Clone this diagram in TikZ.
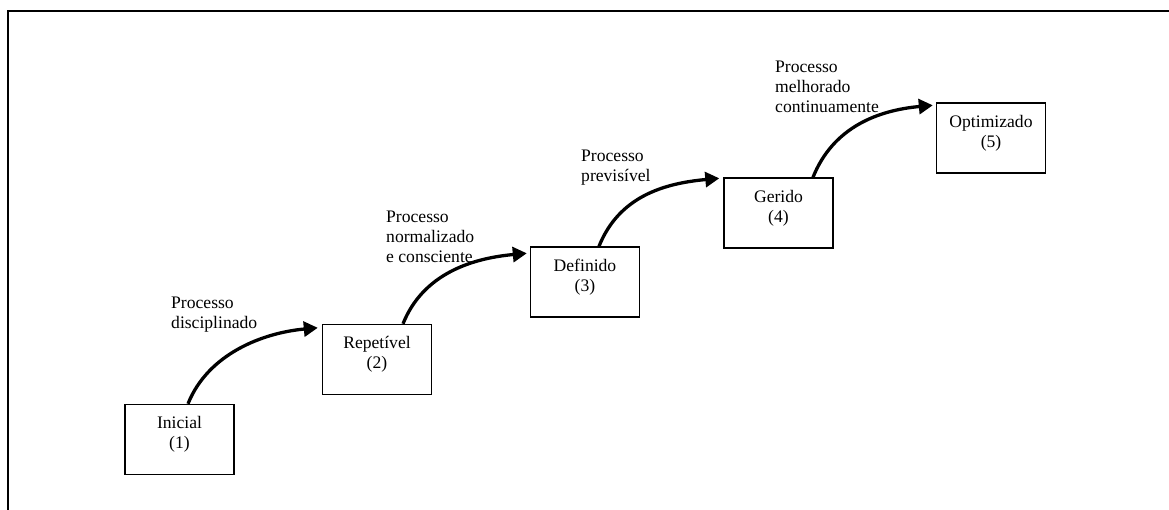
\documentclass[tikz,border=0pt]{standalone}
\usepackage{fontspec}
\setmainfont{Liberation Serif}
\usetikzlibrary{arrows.meta}
\begin{document}
\begin{tikzpicture}[x=1pt,y=-1pt,
  stage/.style={draw, line width=1.4pt, minimum width=109pt, minimum height=70pt, inner sep=0pt},
  stagetext/.style={align=center, inner sep=0pt, font=\fontsize{17.6}{20.3}\selectfont},
  steplabel/.style={align=left, anchor=north west, inner sep=0pt, font=\fontsize{17.6}{20}\selectfont},
  advance/.style={line width=3.3pt, -{Triangle[length=14pt,width=15pt]}},
]
\useasboundingbox (0,0) rectangle (1169,510);

% frame lines
\draw[line width=2pt] (1169,11) -- (7.5,11) -- (7.5,510);

% maturity levels
\node[stage] (b1) at (179.5,439.5) {};
\node[stage] (b2) at (377,359.5) {};
\node[stage] (b3) at (585,282) {};
\node[stage] (b4) at (778.5,213) {};
\node[stage] (b5) at (991,138) {};

\node[stagetext] (t1) at ([yshift=5pt]b1.center) {Inicial\\(1)};
\node[stagetext] (t2) at ([yshift=5pt]b2.center) {Repetível\\(2)};
\node[stagetext] (t3) at ([yshift=5pt]b3.center) {Definido\\(3)};
\node[stagetext] (t4) at ([yshift=5pt]b4.center) {Gerido\\(4)};
\node[stagetext] (t5) at ([yshift=5pt]b5.center) {Optimizado\\(5)};

% transitions
\coordinate (e2) at ([xshift=-4pt,yshift=-4pt]b2.north west);
\coordinate (e3) at ([xshift=-3pt,yshift=-7pt]b3.north west);
\coordinate (e4) at ([xshift=-4pt,yshift=-1pt]b4.north west);
\coordinate (e5) at ([xshift=-3pt,yshift=-3pt]b5.north west);

\draw[advance] ([xshift=8.5pt]b1.north) .. controls +(20,-50) and +(-55,5) .. (e2);
\draw[advance] ([xshift=26pt]b2.north) .. controls +(20,-50) and +(-55,5) .. (e3);
\draw[advance] ([xshift=14pt]b3.north) .. controls +(20,-50) and +(-55,5) .. (e4);
\draw[advance] ([xshift=34.5pt]b4.north) .. controls +(20,-50) and +(-55,5) .. (e5);

% transition labels
\node[steplabel] (l1) at (171,297) {Processo\\disciplinado};
\node[steplabel] (l2) at (386,211) {Processo\\normalizado\\e consciente};
\node[steplabel] (l3) at (581,150) {Processo\\previsível};
\node[steplabel] (l4) at (775,61) {Processo\\melhorado\\continuamente};
\end{tikzpicture}
\end{document}
